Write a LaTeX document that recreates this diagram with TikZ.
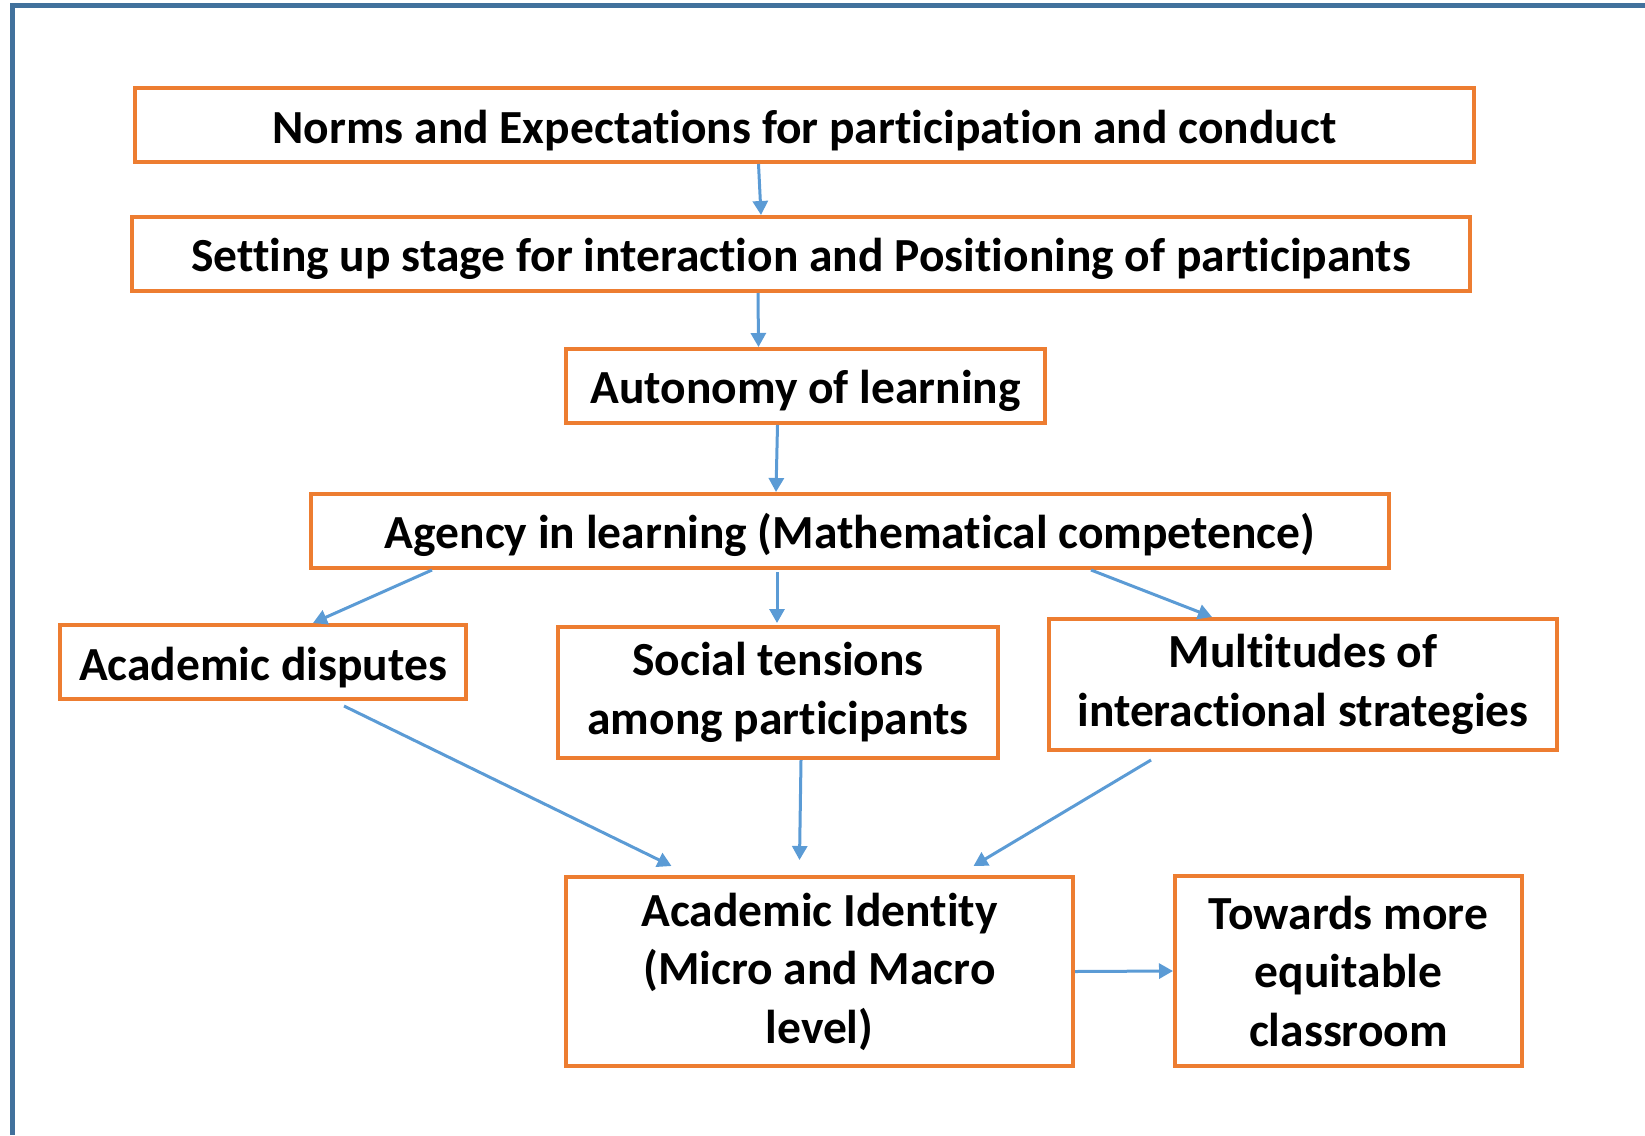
\documentclass[tikz,border=0pt]{standalone}
\usepackage{fontspec}
\setmainfont{Carlito}[Ligatures={NoCommon}]
\usetikzlibrary{arrows.meta, positioning, calc}
\definecolor{boxorange}{RGB}{237, 125, 49}
\definecolor{arrowblue}{RGB}{91, 155, 213}
\definecolor{frameblue}{RGB}{65, 113, 156}

\begin{document}
\begin{tikzpicture}[x=1pt, y=-1pt,
  stepbox/.style={draw=boxorange, line width=4pt, fill=white, align=center, inner sep=0pt,
    font=\fontsize{47.5}{58.5}\selectfont\bfseries,
    execute at begin node={\rule{0pt}{44pt}}},
  flow/.style={draw=arrowblue, line width=3pt, -{Triangle[length=14pt, width=15pt]}}]
  \useasboundingbox (0, 0) rectangle (1645, 1135);

  % outer frame (top and left edge only)
  \draw[frameblue, line width=5pt] (1645, 5) -- (12, 5) -- (12, 1135);

  % main chain
  \node[stepbox, minimum width=1339pt, minimum height=74pt] (norms) at (804.5, 125) {Norms and Expectations for participation and conduct};
  \node[stepbox, minimum width=1338pt, minimum height=74pt] (setup) at (801, 254) {Setting up stage for interaction and Positioning of participants};
  \node[stepbox, minimum width=479pt, minimum height=74pt] (autonomy) at (805.5, 386) {Autonomy of learning};
  \node[stepbox, minimum width=1078pt, minimum height=74pt] (agency) at (850, 531) {Agency in learning (Mathematical competence)};

  % three branches
  \node[stepbox, minimum width=406pt, minimum height=74pt] (disputes) at (263, 662) {Academic disputes};
  \node[stepbox, minimum width=440pt, minimum height=131pt] (tensions) at (778, 692.5) {Social tensions\\among participants};
  \node[stepbox, minimum width=508pt, minimum height=131pt] (multitudes) at (1303, 684.5) {Multitudes of\\interactional strategies};

  % outcome
  \node[stepbox, minimum width=507pt, minimum height=189pt] (identity) at (819.5, 971.5) {Academic Identity\\(Micro and Macro\\level)};
  \node[stepbox, minimum width=347pt, minimum height=190pt] (towards) at (1348.5, 971) {Towards more\\equitable\\classroom};

  % connectors
  \draw[flow] ($(norms.south)+(-46, 0)$) -- ($(setup.north)+(-40, 0)$);
  \draw[flow] ($(setup.south)+(-43, 0)$) -- ($(autonomy.north)+(-47, 0)$);
  \draw[flow] ($(autonomy.south)+(-28, 0)$) -- ($(agency.north)+(-74, 0)$);
  \draw[flow] ($(agency.south)+(-418, 0)$) -- ($(disputes.north)+(50, 0)$);
  \draw[flow] ($(agency.south)+(-73, 2)$) -- ($(tensions.north)+(-1, -2)$);
  \draw[flow] ($(agency.south)+(241, 0)$) -- ($(multitudes.north)+(-91, 0)$);
  \draw[flow] ($(disputes.south)+(81, 5)$) -- ($(identity.north)+(-148, -9)$);
  \draw[flow] ($(tensions.south)+(23, 0)$) -- ($(identity.north)+(-20, -15)$);
  \draw[flow] ($(multitudes.south)+(-152, 8)$) -- ($(identity.north)+(154, -9)$);
  \draw[flow] (identity.east) -- (towards.west);
\end{tikzpicture}
\end{document}
